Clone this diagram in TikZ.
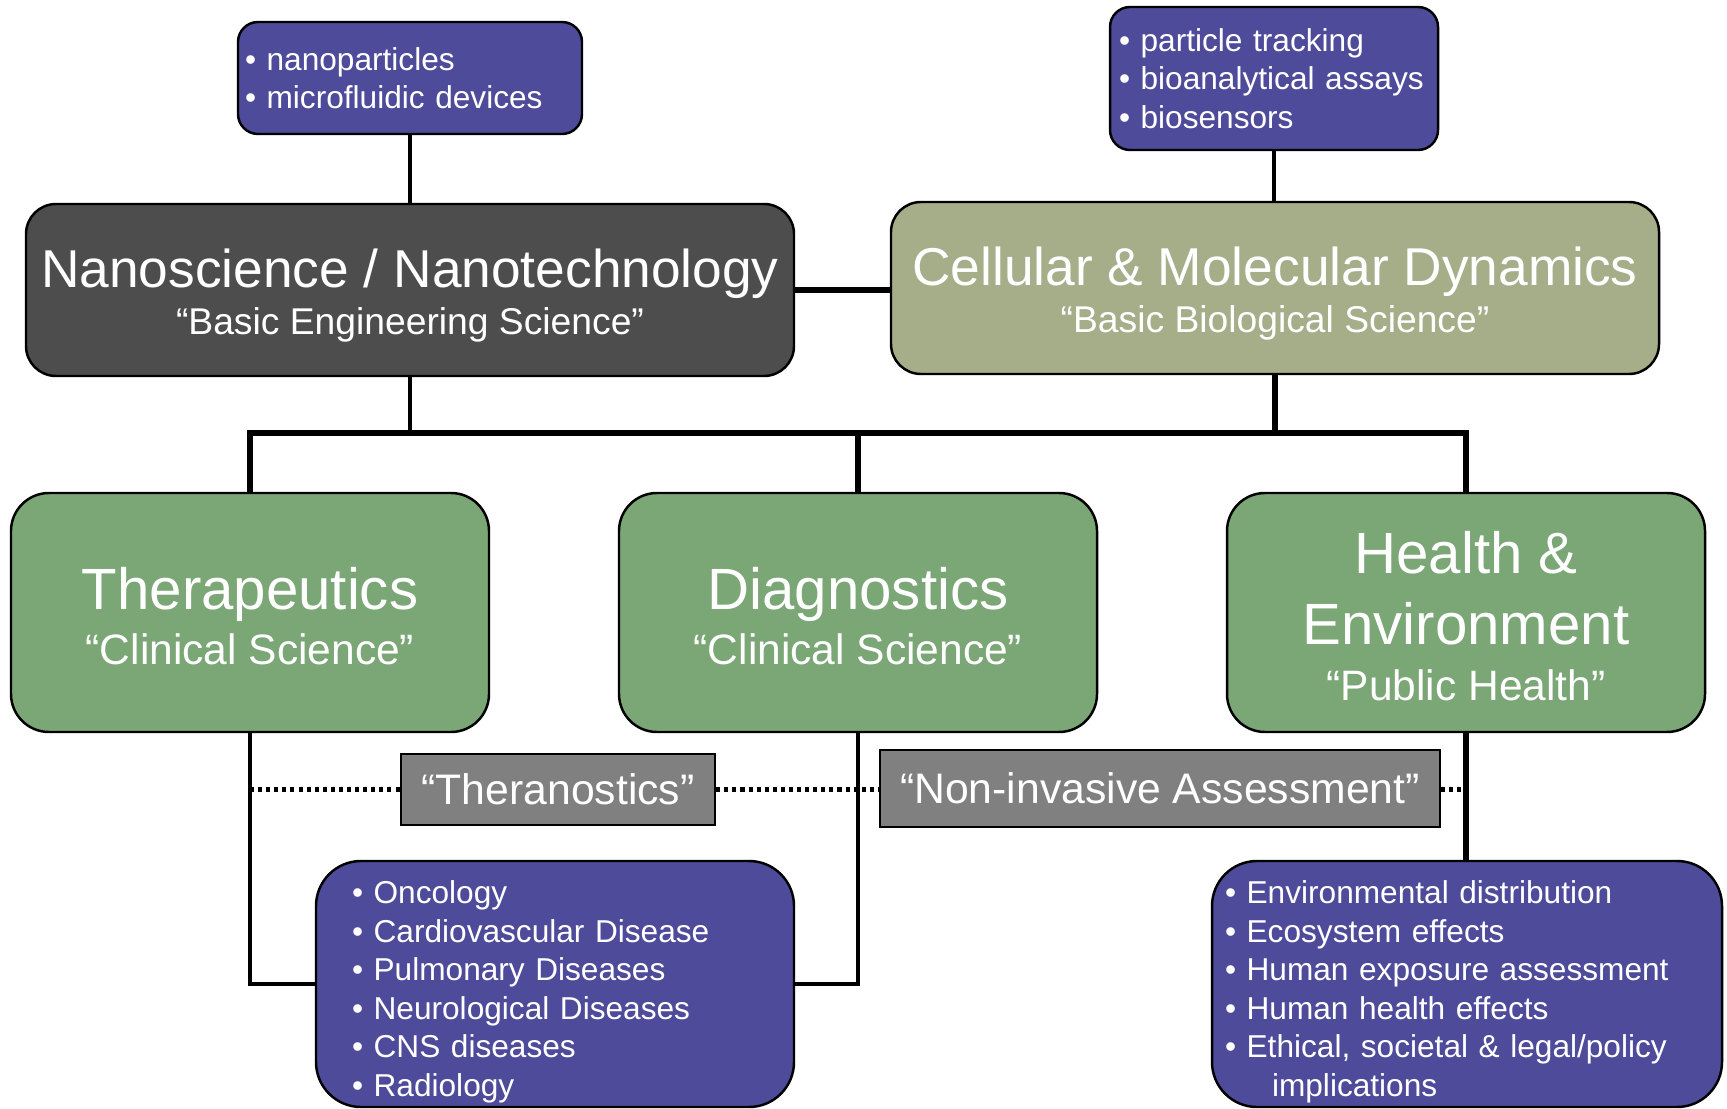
\documentclass[tikz,border=0pt]{standalone}
\usepackage{fontspec}
\setmainfont{Liberation Sans}
\usetikzlibrary{calc}
\definecolor{boxpurple}{RGB}{79,75,155}
\definecolor{boxdark}{RGB}{77,77,77}
\definecolor{boxolive}{RGB}{165,173,137}
\definecolor{boxgreen}{RGB}{123,167,118}
\definecolor{boxgray}{RGB}{128,128,128}
\newcommand\toppad[1]{\rule{0pt}{#1}}
\newcommand\boxhead[1]{{\fontsize{15.16}{18}\selectfont\toppad{14.2pt}#1}}
\newcommand\fieldhead[1]{{\fontsize{16.56}{19}\selectfont\toppad{14.1pt}#1}}

\begin{document}
\begin{tikzpicture}[
    every node/.style={text=white, draw=black, line width=0.7pt},
    listbox/.style={fill=boxpurple, rounded corners=0.2cm, align=left, inner ysep=0pt, font=\fontsize{9}{10.95}\selectfont},
    topbox/.style={rounded corners=0.3cm, minimum width=7.68cm, minimum height=1.72cm, align=center, font=\fontsize{10.6}{13.4}\selectfont},
    fieldbox/.style={fill=boxgreen, rounded corners=0.38cm, minimum width=4.78cm, minimum height=2.39cm, align=center, font=\fontsize{12.1}{15.8}\selectfont},
    tagbox/.style={fill=boxgray, font=\fontsize{12.15}{14}\selectfont},
    link/.style={line width=1pt},
    thick link/.style={line width=1.5pt},
    dotlink/.style={line width=1.15pt, dash pattern=on 1.15pt off 1.15pt}
  ]
    \useasboundingbox (0,0) rectangle (17.27,11.08);
    \clip (0,0) rectangle (17.27,11.08);

    \node[listbox, inner xsep=0.07cm, text width=3.30cm, minimum height=1.12cm] (tools) at (4.10,10.30) {• nanoparticles\\• microfluidic devices};
    \node[listbox, inner xsep=0.09cm, text width=3.10cm, minimum height=1.43cm] (methods) at (12.74,10.295) {• particle tracking\\• bioanalytical assays\\• biosensors};

    \node[topbox, fill=boxdark] (nano) at (4.10,8.18) {\boxhead{Nanoscience / Nanotechnology}\\“Basic Engineering Science”};
    \node[topbox, fill=boxolive] (cell) at (12.75,8.20) {\boxhead{Cellular \& Molecular Dynamics}\\“Basic Biological Science”};

    \node[fieldbox] (ther) at (2.50,4.955) {\fieldhead{Therapeutics}\\“Clinical Science”};
    \node[fieldbox] (diag) at (8.58,4.955) {\fieldhead{Diagnostics}\\“Clinical Science”};
    \node[fieldbox] (health) at (14.66,4.955) {\fieldhead{Health \&}\\[4.4pt]\fieldhead{Environment}\\“Public Health”};

    \node[tagbox, minimum width=3.14cm, minimum height=0.71cm] (thera) at (5.58,3.185) {“Theranostics”};
    \node[tagbox, minimum width=5.60cm, minimum height=0.77cm] (noninv) at (11.60,3.195) {“Non-invasive Assessment”};

    \node[listbox, rounded corners=0.45cm, inner xsep=0.36cm, text width=4.06cm, minimum height=2.46cm] (diseases) at (5.55,1.24) {\toppad{10.9pt}• Oncology\\• Cardiovascular Disease\\• Pulmonary Diseases\\• Neurological Diseases\\• CNS diseases\\• Radiology};
    \node[listbox, rounded corners=0.45cm, inner xsep=0.13cm, text width=4.84cm, minimum height=2.46cm] (impacts) at (14.67,1.24) {\toppad{10.9pt}• Environmental distribution\\• Ecosystem effects\\• Human exposure assessment\\• Human health effects\\• Ethical, societal \& legal/policy\\\hspace*{0.47cm}implications};

    \coordinate (bus) at (0,6.75);
    \draw[link] (tools.south) -- (nano.north);
    \draw[link] (methods.south) -- (methods.south |- cell.north);
    \draw[thick link] (nano.east) -- (nano.east -| cell.west);
    \draw[link] (nano.south) -- (nano.south |- bus);
    \draw[thick link] (cell.south) -- (cell.south |- bus);
    \draw[thick link] (ther.north) |- (bus -| diag.north) -| (health.north);
    \draw[thick link] (diag.north) -- (diag.north |- bus);

    \draw[dotlink] (ther.south |- thera.west) -- (thera.west);
    \draw[dotlink] (thera.east) -- (noninv.west |- thera.east);
    \draw[dotlink] (noninv.east |- thera.east) -- (health.south |- thera.east);

    \draw[link] (ther.south) |- (diseases.west);
    \draw[link] (diag.south) |- (diseases.east);
    \draw[thick link] (health.south) -- (health.south |- impacts.north);
\end{tikzpicture}
\end{document}
